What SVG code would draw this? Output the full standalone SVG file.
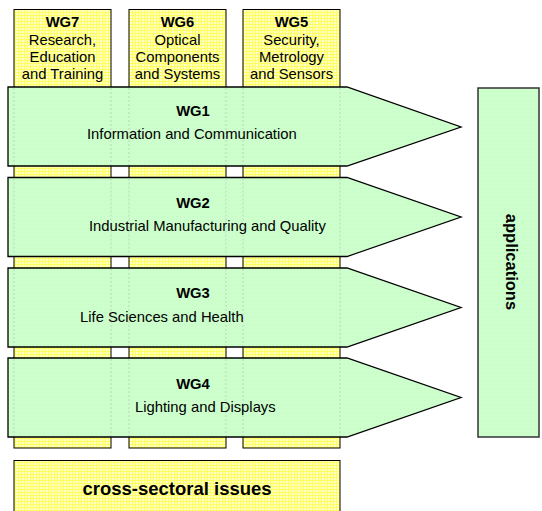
<svg xmlns="http://www.w3.org/2000/svg" width="542" height="511" viewBox="0 0 542 511">
<defs>
<pattern id="yel" width="3" height="3" patternUnits="userSpaceOnUse">
<rect width="3" height="3" fill="#ffffc8"/>
<path d="M0,0.5H3M0.5,0V3" stroke="#ffff60" stroke-width="1"/>
</pattern>
<pattern id="grn" width="4" height="4" patternUnits="userSpaceOnUse">
<rect width="4" height="4" fill="#ccffcc"/>
<rect width="1" height="1" fill="#c6f7c6"/>
</pattern>
<style>
.t{font-family:"Liberation Sans",Arial,sans-serif;font-size:14.8px;fill:#000}
.b{font-weight:bold}
.c{text-anchor:middle}
.col{fill:url(#yel);stroke:#000;stroke-width:1}
.band{fill:url(#grn);stroke:#000;stroke-width:1.3}
.dl{stroke:#b8ccb8;stroke-width:0.8;stroke-dasharray:2 2}
</style>
</defs>
<rect width="542" height="511" fill="#fff"/>
<g id="wg7">
<rect class="col" x="14" y="9.5" width="97" height="438.5"/>
<text class="t b c" x="62.5" y="27">WG7</text>
<text class="t c" x="62.5" y="45">Research,</text>
<text class="t c" x="62.5" y="62">Education</text>
<text class="t c" x="62.5" y="79">and Training</text>
</g>
<g id="wg6">
<rect class="col" x="129" y="9.5" width="97" height="438.5"/>
<text class="t b c" x="177.5" y="27">WG6</text>
<text class="t c" x="177.5" y="45">Optical</text>
<text class="t c" x="177.5" y="62">Components</text>
<text class="t c" x="177.5" y="79">and Systems</text>
</g>
<g id="wg5">
<rect class="col" x="243" y="9.5" width="97" height="438.5"/>
<text class="t b c" x="291.5" y="27">WG5</text>
<text class="t c" x="291.5" y="45">Security,</text>
<text class="t c" x="291.5" y="62">Metrology</text>
<text class="t c" x="291.5" y="79">and Sensors</text>
</g>
<g id="wg1">
<path class="band" d="M8,87H347L461,127L347,166H8Z"/>
<path class="dl" d="M14,88V165M111,88V165M129,88V165M226,88V165M243,88V165M340,88V165"/>
<text class="t b c" x="193" y="116">WG1</text>
<text class="t" x="87" y="139">Information and Communication</text>
</g>
<g id="wg2">
<path class="band" d="M8,177.5H347L461,217L347,256.5H8Z"/>
<path class="dl" d="M14,178.5V255.5M111,178.5V255.5M129,178.5V255.5M226,178.5V255.5M243,178.5V255.5M340,178.5V255.5"/>
<text class="t b c" x="193" y="208">WG2</text>
<text class="t" x="89" y="231">Industrial Manufacturing and Quality</text>
</g>
<g id="wg3">
<path class="band" d="M8,268H347L461,307.5L347,347H8Z"/>
<path class="dl" d="M14,269V346M111,269V346M129,269V346M226,269V346M243,269V346M340,269V346"/>
<text class="t b c" x="193" y="298">WG3</text>
<text class="t" x="80" y="322">Life Sciences and Health</text>
</g>
<g id="wg4">
<path class="band" d="M8,358H347L461,397.5L347,437H8Z"/>
<path class="dl" d="M14,359V436M111,359V436M129,359V436M226,359V436M243,359V436M340,359V436"/>
<text class="t b c" x="193" y="389">WG4</text>
<text class="t" x="135" y="412">Lighting and Displays</text>
</g>
<g id="applications">
<rect x="478" y="88" width="61" height="349" fill="url(#grn)" stroke="#333" stroke-width="1.5"/>
<text class="t b c" x="0" y="0" transform="translate(506,262) rotate(90)" style="font-size:16.5px">applications</text>
</g>
<g id="cross-sectoral">
<rect class="col" x="14" y="460.5" width="326" height="60" stroke="#555"/>
<text class="t b c" x="177" y="495" style="font-size:18.5px">cross-sectoral issues</text>
</g>
<g id="connectors"/>
</svg>
